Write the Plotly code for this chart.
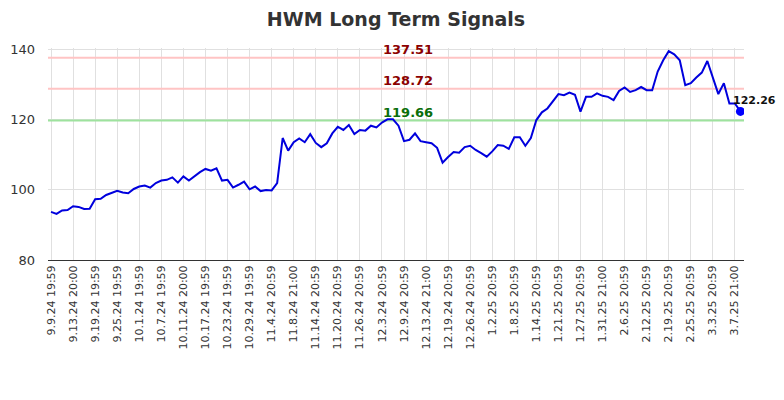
import plotly.graph_objects as go

# Tick labels (every 4th trading day)
tick_labels = [
    "9.9.24 19:59", "9.13.24 20:00", "9.19.24 19:59", "9.25.24 19:59",
    "10.1.24 19:59", "10.7.24 19:59", "10.11.24 20:00", "10.17.24 19:59",
    "10.23.24 19:59", "10.29.24 19:59", "11.4.24 20:59", "11.8.24 21:00",
    "11.14.24 20:59", "11.20.24 20:59", "11.26.24 20:59", "12.3.24 20:59",
    "12.9.24 20:59", "12.13.24 21:00", "12.19.24 20:59", "12.26.24 20:59",
    "1.2.25 20:59", "1.8.25 20:59", "1.14.25 20:59", "1.21.25 20:59",
    "1.27.25 20:59", "1.31.25 21:00", "2.6.25 20:59", "2.12.25 20:59",
    "2.19.25 20:59", "2.25.25 20:59", "3.3.25 20:59", "3.7.25 21:00",
]

prices = [
    93.7, 93.1, 94.1, 94.2, 95.3, 95.1, 94.5, 94.6, 97.3, 97.4,
    98.5, 99.2, 99.7, 99.2, 99.0, 100.2, 100.9, 101.2, 100.6, 101.9,
    102.6, 102.8, 103.5, 102.0, 103.8, 102.6, 103.8, 105.0, 105.9, 105.4,
    106.1, 102.6, 102.8, 100.6, 101.4, 102.3, 100.1, 100.9, 99.6, 99.9,
    99.8, 101.9, 114.7, 111.1, 113.5, 114.6, 113.5, 115.8, 113.3, 112.1,
    113.2, 116.0, 117.9, 117.0, 118.4, 115.8, 117.0, 116.8, 118.2, 117.7,
    119.1, 120.0, 120.0, 118.2, 113.8, 114.2, 116.0, 113.8, 113.5, 113.2,
    111.9, 107.7, 109.3, 110.7, 110.5, 112.1, 112.5, 111.3, 110.4, 109.4,
    110.9, 112.7, 112.5, 111.6, 114.9, 114.9, 112.5, 114.7, 119.8, 122.0,
    123.1, 125.0, 127.2, 126.9, 127.6, 127.0, 122.2, 126.4, 126.4, 127.4,
    126.7, 126.4, 125.5, 128.1, 129.1, 127.8, 128.3, 129.2, 128.3, 128.3,
    133.6, 136.8, 139.4, 138.5, 136.8, 129.7, 130.3, 131.9, 133.3, 136.6,
    131.7, 127.2, 130.3, 124.5, 124.5, 122.26,
]

signal_levels = [137.51, 128.72, 119.66]
signal_line_colors = ["#ffc4c4", "#ffc4c4", "#9ee29e"]
signal_text_colors = ["#8b0000", "#8b0000", "#0a6e0a"]

x_idx = list(range(len(prices)))
tick_vals = list(range(0, len(prices), 4))[:len(tick_labels)]

fig = go.Figure()

for lvl, lc in zip(signal_levels, signal_line_colors):
    fig.add_trace(go.Scatter(
        x=[-1, len(prices) + 1], y=[lvl, lvl], mode="lines",
        line=dict(color=lc, width=2), hoverinfo="skip", showlegend=False,
    ))

fig.add_trace(go.Scatter(
    x=x_idx, y=prices, mode="lines",
    line=dict(color="#0000dd", width=2), showlegend=False,
))
fig.add_trace(go.Scatter(
    x=[x_idx[-1]], y=[prices[-1]], mode="markers",
    marker=dict(color="#0000ff", size=9), showlegend=False,
))

for lvl, tc in zip(signal_levels, signal_text_colors):
    fig.add_annotation(
        x=64.7, y=lvl, text=f"{lvl:.2f}", showarrow=False,
        xanchor="center", yanchor="bottom", yshift=-1,
        font=dict(family="DejaVu Sans", size=13, color=tc, weight="bold"),
    )

fig.add_annotation(
    x=x_idx[-1], y=prices[-1], text=f"{prices[-1]:.2f}", showarrow=False,
    xanchor="center", yanchor="bottom", xshift=14, yshift=2,
    font=dict(family="DejaVu Sans", size=11, color="#111111", weight="bold"),
)

fig.update_layout(
    width=776, height=392,
    margin=dict(l=40, r=40, t=40, b=140),
    paper_bgcolor="white", plot_bgcolor="white",
    title=dict(
        text="HWM Long Term Signals", x=0.5, xanchor="center", y=0.987, yanchor="top",
        font=dict(family="DejaVu Sans", size=19, color="#333333", weight="bold"),
    ),
    font=dict(family="DejaVu Sans", color="#333333"),
)

fig.update_xaxes(
    range=[-0.55, 125.65],
    tickmode="array", tickvals=tick_vals, ticktext=tick_labels,
    tickangle=-90, tickfont=dict(size=11, color="#333333"),
    showgrid=True, gridcolor="#e0e0e0", gridwidth=1,
    showline=True, linecolor="#333333", linewidth=1,
    zeroline=False, ticks="", automargin=False,
)
fig.update_yaxes(
    range=[80, 140.3], tickvals=[80, 100, 120, 140],
    tickfont=dict(size=13, color="#333333"),
    showgrid=True, gridcolor="#e0e0e0", gridwidth=1,
    zeroline=False, showline=False, ticks="",
    ticklabelstandoff=12, automargin=False,
)

fig.write_html("out.html")
